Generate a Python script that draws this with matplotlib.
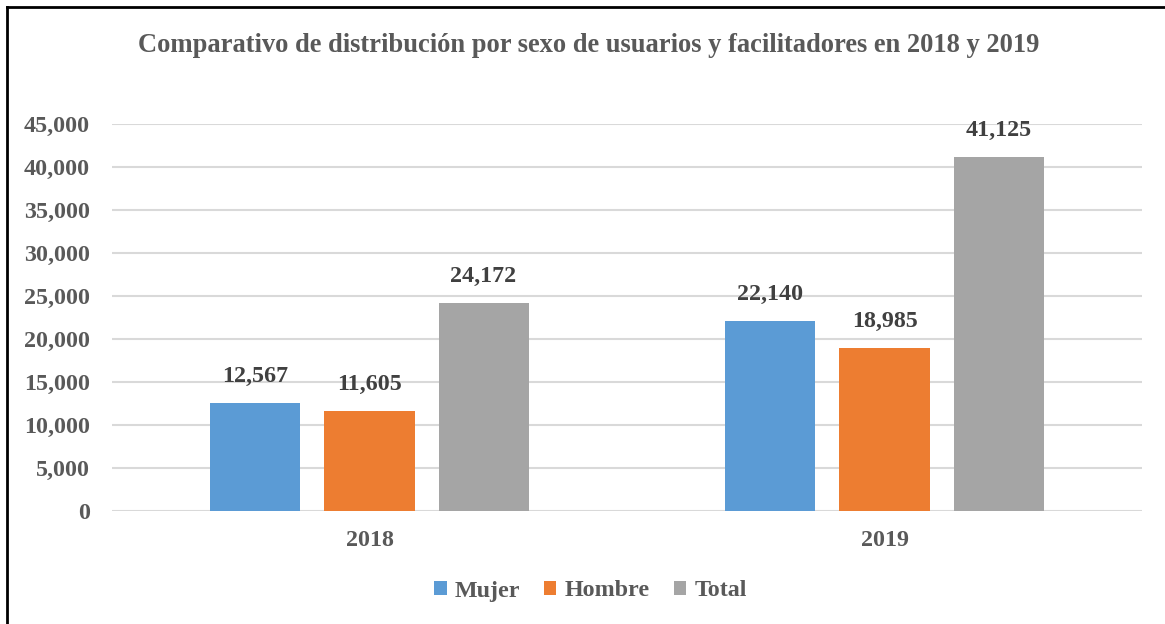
import matplotlib
matplotlib.use("Agg")
import matplotlib.pyplot as plt
import numpy as np

categories = ["2018", "2019"]
series_names = ["Mujer", "Hombre", "Total"]
mujer = [12567, 22140]
hombre = [11605, 18985]
total = [24172, 41125]
colors = ["#5b9bd5", "#ed7d31", "#a5a5a5"]
yticks = list(range(0, 45001, 5000))

plt.rcParams['font.family'] = ['Liberation Serif', 'DejaVu Serif']
plt.rcParams['font.weight'] = 'bold'

fig = plt.figure(figsize=(11.65, 6.24), dpi=100)
ax = fig.add_axes([112/1165, 1-511/624, (1142-112)/1165, (511-124)/624])

x = np.arange(len(categories))
width = 0.1748
step = 0.2214
data = [mujer, hombre, total]
for i, (name, vals, c) in enumerate(zip(series_names, data, colors)):
    bars = ax.bar(x + (i - 1) * step, vals, width, color=c, label=name, zorder=3)
    for b, v in zip(bars, vals):
        ax.annotate(f"{v:,}", (b.get_x() + b.get_width()/2, v), xytext=(0, 11.5),
                    textcoords="offset points", ha="center", va="bottom",
                    fontsize=17.3, fontweight="bold", color="#404040")

ax.set_xlim(-0.5, 1.5)
ax.set_ylim(0, 45000)
ax.set_yticks(yticks)
ax.set_yticklabels([f"{t:,}" for t in yticks])
ax.set_xticks(x)
ax.set_xticklabels(categories)
ax.tick_params(axis='both', length=0, labelsize=17.3, labelcolor="#595959")
ax.tick_params(axis='y', pad=16)
ax.tick_params(axis='x', pad=14)
for lab in ax.get_xticklabels() + ax.get_yticklabels():
    lab.set_fontweight("bold")
ax.grid(axis='y', color="#d9d9d9", linewidth=1.5, zorder=0)
for s in ax.spines.values():
    s.set_visible(False)

fig.text(0.505, 1-46/624, "Comparativo de distribución por sexo de usuarios y facilitadores en 2018 y 2019",
         ha="center", va="center", fontsize=19.1, fontweight="bold", color="#595959")

leg = fig.legend(loc="center", bbox_to_anchor=(0.507, 1-591/624), ncol=3, frameon=False,
                 fontsize=17.3, handlelength=0.5, handleheight=0.5, handletextpad=0.35,
                 columnspacing=1.0, labelcolor="#595959")
for t in leg.get_texts():
    t.set_fontweight("bold")

# border lines (top and left)
fig.add_artist(plt.Line2D([7/1165, 1], [1-7/624, 1-7/624], color="black", linewidth=2, transform=fig.transFigure))
fig.add_artist(plt.Line2D([7/1165, 7/1165], [0, 1-7/624], color="black", linewidth=2, transform=fig.transFigure))

fig.savefig("out.png", dpi=100)
